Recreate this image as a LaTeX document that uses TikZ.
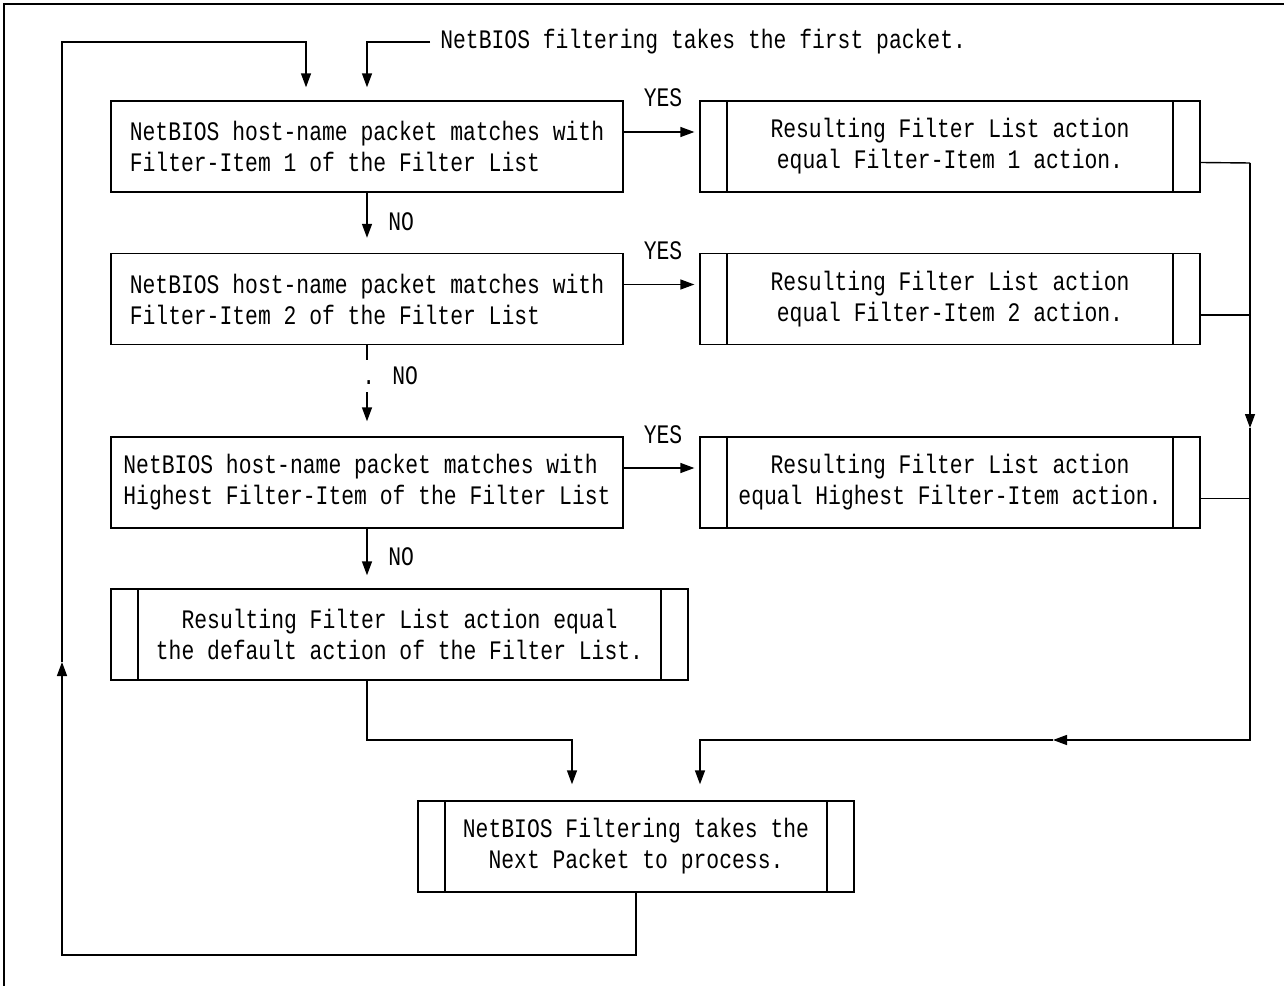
\documentclass[tikz,border=0pt]{standalone}
\usepackage{fontspec}
\newfontfamily\chartfont[FakeStretch=0.8]{Liberation Mono}
\usepackage{tikz}
\usetikzlibrary{arrows.meta}

\begin{document}
\begin{tikzpicture}[
  x=0.02cm,
  y=-0.02cm,
  font=\chartfont\fontsize{15.2}{17.6}\selectfont,
  flowline/.style={line width=0.8pt},
  arrow/.style={flowline, -{Triangle[length=0.28cm,width=0.2cm]}},
  boxnode/.style={
    draw,
    line width=0.8pt,
    inner sep=0pt,
    minimum height=1.82cm
  },
  decision/.style={boxnode, align=left, minimum width=10.24cm},
  process/.style={
    boxnode,
    align=center,
    path picture={
      \draw[line width=0.8pt]
        ([xshift=0.54cm]path picture bounding box.north west) --
        ([xshift=0.54cm]path picture bounding box.south west);
      \draw[line width=0.8pt]
        ([xshift=-0.54cm]path picture bounding box.north east) --
        ([xshift=-0.54cm]path picture bounding box.south east);
    }
  },
  tag/.style={inner sep=0pt},
  answer/.style={inner sep=0pt, anchor=west}
]
  \useasboundingbox (0,0) rectangle (1284,986);
  \draw[line width=1.2pt] (4,986) -- (4,4) -- (1284,4);

  \node[answer, inner xsep=0.2cm] (first) at (430,42)
    {NetBIOS filtering takes the first packet.};

  \node[decision] (d1) at (367,146.5)
    {NetBIOS host-name packet matches with\\Filter-Item 1 of the Filter List};
  \node[process, minimum width=10cm] (r1) at (950,146.5)
    {Resulting Filter List action\\equal Filter-Item 1 action.};

  \node[decision] (d2) at (367,299)
    {NetBIOS host-name packet matches with\\Filter-Item 2 of the Filter List};
  \node[process, minimum width=10cm] (r2) at (950,299)
    {Resulting Filter List action\\equal Filter-Item 2 action.};

  \node[decision] (d3) at (367,482.5)
    {NetBIOS host-name packet matches with\\Highest Filter-Item of the Filter List};
  \node[process, minimum width=10cm] (r3) at (950,482.5)
    {Resulting Filter List action\\equal Highest Filter-Item action.};

  \node[process, minimum width=11.54cm] (dflt) at (399.5,634.5)
    {Resulting Filter List action equal\\the default action of the Filter List.};
  \node[process, minimum width=8.72cm] (nxt) at (636,846.5)
    {NetBIOS Filtering takes the\\Next Packet to process.};

  \node[tag] (yes1) at (663,98) {YES};
  \node[tag] (yes2) at (663,251) {YES};
  \node[tag] (yes3) at (663,435) {YES};
  \node[answer] (no1) at (388,222) {NO};
  \node[answer] (no2) at (362,376) {. NO};
  \node[answer] (no3) at (388,557) {NO};

  \coordinate (gaptop) at (367,360);
  \coordinate (gapbot) at (367,392);
  \coordinate (bustop) at (1250,163);
  \coordinate (busmid) at (1250,428);
  \coordinate (busend) at (1250,740);
  \coordinate (busmark) at (1053,740);
  \coordinate (mergel) at (572,740);
  \coordinate (loopbl) at (62,955);
  \coordinate (loopup) at (62,662);
  \coordinate (looptl) at (62,42);

  \draw[arrow, shorten >=0.26cm] (first.west) -| (d1.north);

  \draw[arrow, shorten >=0.3cm] (d1.south) -- (d2.north);
  \draw[flowline] (d2.south) -- (gaptop);
  \draw[arrow, shorten >=0.3cm] (gapbot) -- (d3.north);
  \draw[arrow, shorten >=0.26cm] (d3.south) -- (dflt.north -| d3.south);

  \draw[arrow, shorten >=0.1cm] ([yshift=0.29cm]d1.east) -- ([yshift=0.29cm]r1.west);
  \draw[arrow, shorten >=0.1cm] ([yshift=0.29cm]d2.east) -- ([yshift=0.29cm]r2.west);
  \draw[arrow, shorten >=0.1cm] ([yshift=0.29cm]d3.east) -- ([yshift=0.29cm]r3.west);

  \draw[flowline] ([yshift=-0.32cm]r1.east) -- (bustop);
  \draw[flowline] ([yshift=-0.32cm]r2.east) -| (bustop);
  \draw[flowline] ([yshift=-0.32cm]r3.east) -| (busmid);
  \draw[arrow] (bustop) -- (busmid);
  \draw[arrow] (busmid) -- (busend) -- (busmark);
  \draw[arrow, shorten >=0.32cm] (busmark) -| ([xshift=1.28cm]nxt.north);

  \draw[arrow, shorten >=0.32cm] (d3.south |- dflt.south) |- (mergel) -- (mergel |- nxt.north);

  \draw[arrow] (nxt.south) |- (loopbl) -- (loopup);
  \draw[arrow, shorten >=0.26cm] (loopup) -- (looptl) -| ([xshift=-1.22cm]d1.north);
\end{tikzpicture}
\end{document}
